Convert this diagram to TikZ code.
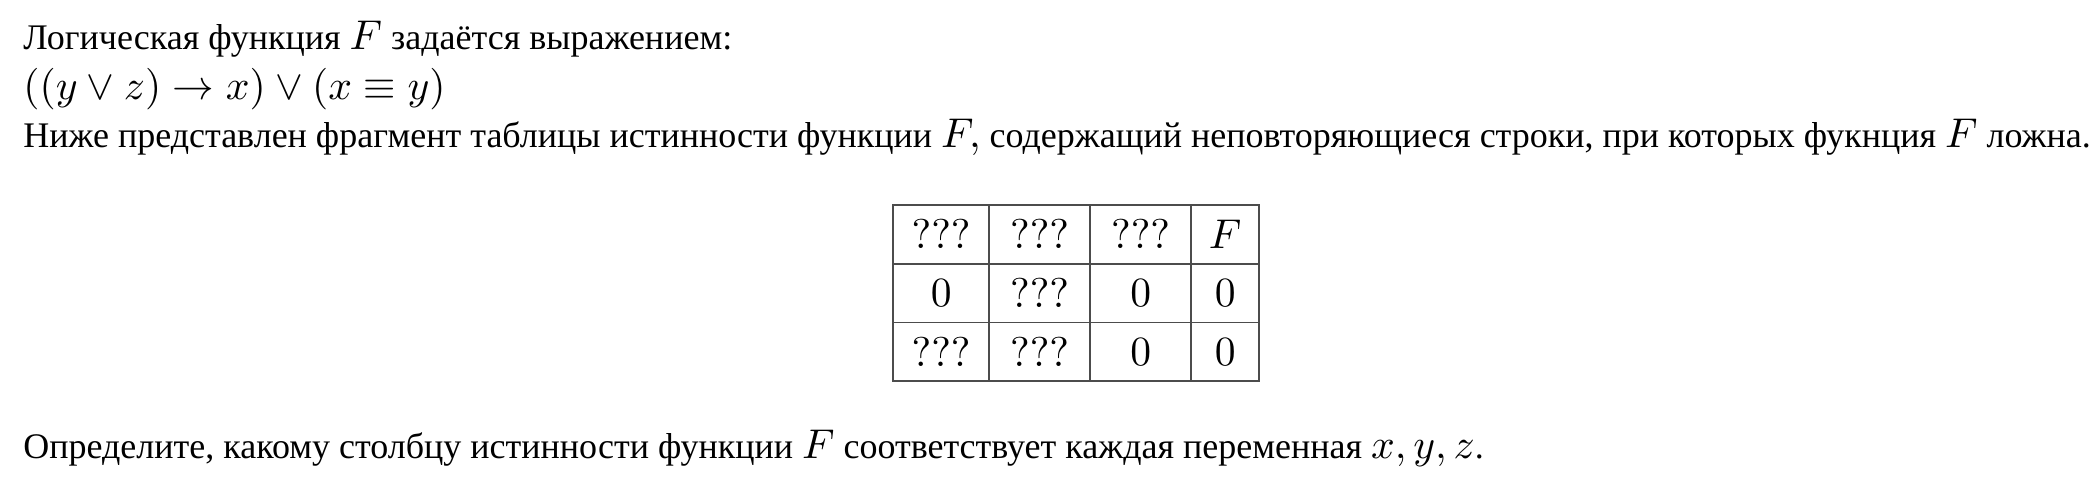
\documentclass[tikz,border=0pt]{standalone}
\usepackage[no-math]{fontspec}
\setmainfont{Liberation Serif}
\usetikzlibrary{matrix}
% one design size of Computer Modern, scaled freely
\DeclareFontFamily{OT1}{cmr}{\hyphenchar\font45 }
\DeclareFontShape{OT1}{cmr}{m}{n}{<-> cmr10}{}
\DeclareFontFamily{OML}{cmm}{\skewchar\font127 }
\DeclareFontShape{OML}{cmm}{m}{it}{<-> cmmi10}{}
\DeclareFontFamily{OMS}{cmsy}{\skewchar\font48 }
\DeclareFontShape{OMS}{cmsy}{m}{n}{<-> cmsy10}{}
\newcommand{\txtsize}{\fontsize{18}{22}\selectfont}
\newcommand{\mth}[1]{{\fontsize{20.8}{25}\selectfont$#1$}}

\begin{document}
\begin{tikzpicture}[
  x=0.5pt, y=-0.5pt,
  line/.style={anchor=base west, inner sep=0pt, font=\txtsize},
  cell/.style={draw=black!70, line width=0.75pt, minimum height=29.3pt,
               inner sep=0pt, outer sep=0pt, anchor=center}
]
\useasboundingbox (0,0) rectangle (2098,502);
\node[line] (title) at (23,50) {Логическая функция \mth{F} задаётся выражением:};
\node[line] (expr) at (23,100) {\mth{((y \vee z) \to x) \vee (x \equiv y)}};
\node[line] (intro) at (23,148) {Ниже представлен фрагмент таблицы истинности функции \mth{F,} содержащий неповторяющиеся строки, при которых фукнция \mth{F} ложна.};
% truth table fragment
\matrix (tbl) [matrix of nodes, anchor=north west, inner sep=0pt,
  nodes={cell}, column sep=-0.75pt, row sep=-0.75pt,
  column 1/.style={nodes={minimum width=48pt}},
  column 2/.style={nodes={minimum width=50.5pt}},
  column 3/.style={nodes={minimum width=50.5pt}},
  column 4/.style={nodes={minimum width=34pt}}]
  at (892,204) {
  \mth{???} & \mth{???} & \mth{???} & \mth{F} \\
  \mth{0}   & \mth{???} & \mth{0}   & \mth{0} \\
  \mth{???} & \mth{???} & \mth{0}   & \mth{0} \\
};
\node[line] (task) at (23,458) {Определите, какому столбцу истинности функции \mth{F} соответствует каждая переменная \mth{x, y, z}.};
\end{tikzpicture}
\end{document}
